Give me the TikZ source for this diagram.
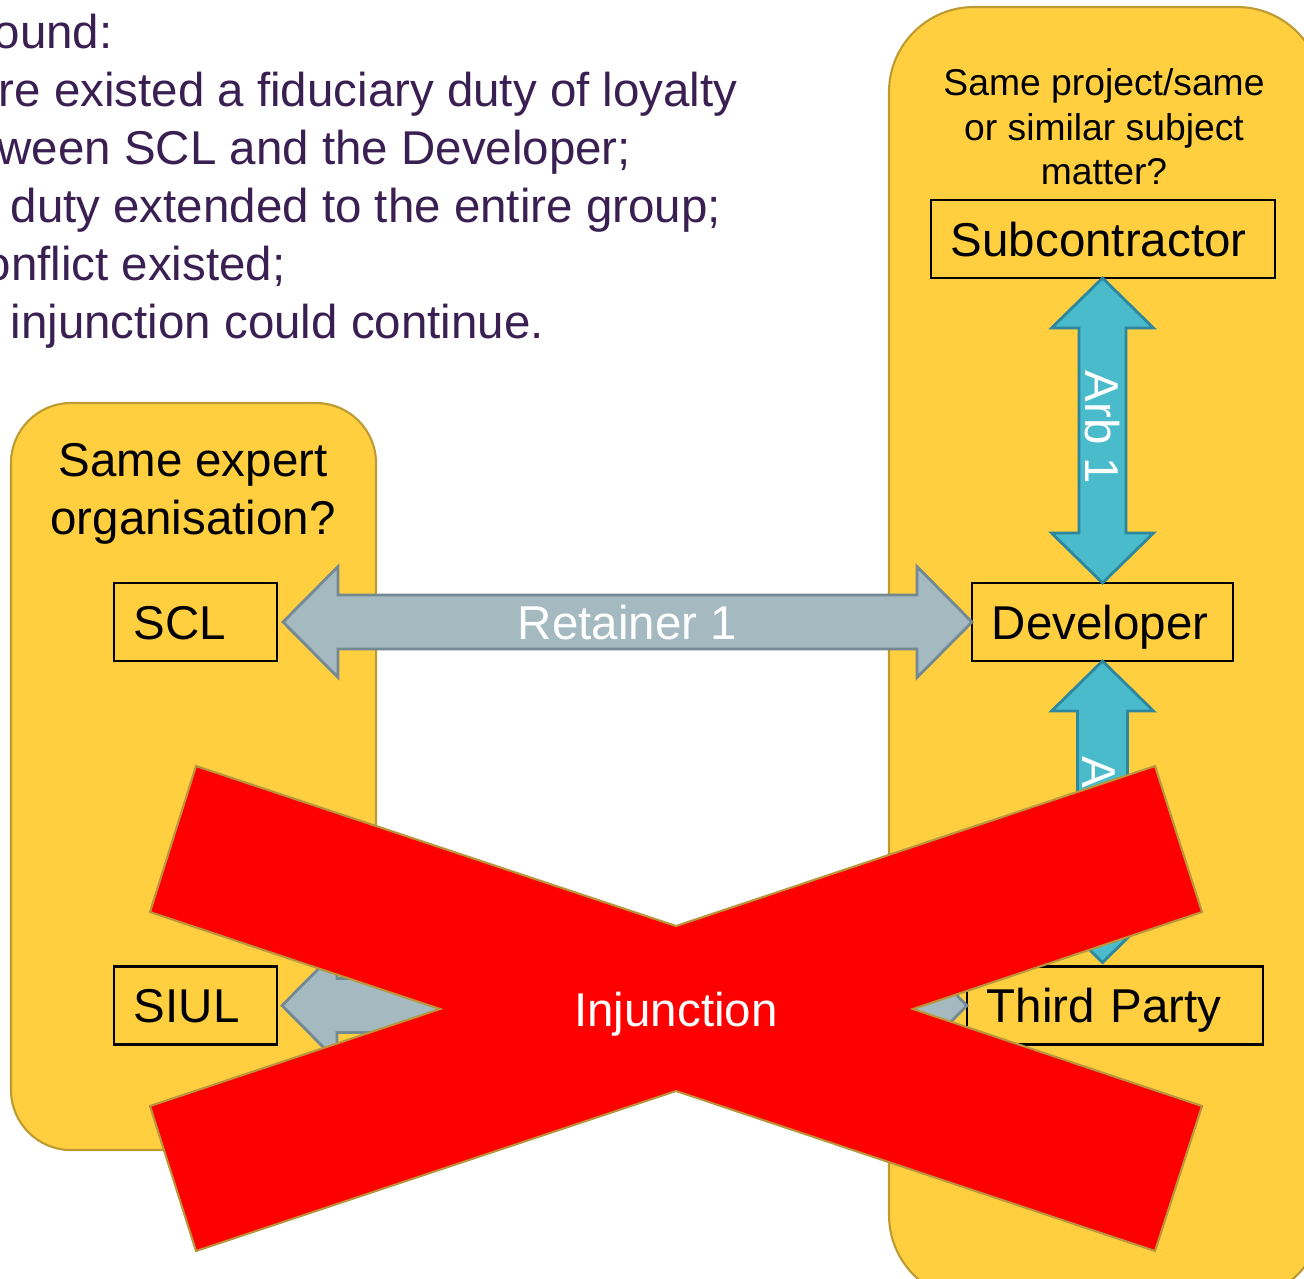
\documentclass[tikz,border=0pt]{standalone}
\usepackage{fontspec}
\setmainfont{Liberation Sans}
\usetikzlibrary{calc}

\definecolor{groupfill}{RGB}{255,207,64}
\definecolor{groupline}{RGB}{190,155,50}
\definecolor{retfill}{RGB}{165,185,192}
\definecolor{retline}{RGB}{115,137,148}
\definecolor{arbfill}{RGB}{74,187,203}
\definecolor{arbline}{RGB}{45,135,158}
\definecolor{notetext}{RGB}{58,32,82}
\definecolor{crossline}{RGB}{185,150,60}

\newcommand{\bigtext}{\fontsize{13.5}{16.4}\selectfont}
\newcommand{\smalltext}{\fontsize{10.6}{12.7}\selectfont}

\tikzset{
  groupbox/.style={fill=groupfill, draw=groupline, line width=0.6pt},
  party/.style={draw=black, line width=0.6pt, minimum height=0.78cm,
    inner xsep=0.2cm, inner ysep=0pt, outer sep=0pt, text width=#1,
    align=left, font=\bigtext, text height=9.7pt, text depth=0pt},
  note/.style={anchor=base west, inner sep=0pt, font=\bigtext, text=notetext},
  retarrow/.style={fill=retfill, draw=retline, line width=0.8pt},
  arbarrow/.style={fill=arbfill, draw=arbline, line width=0.8pt},
  arrowlabel/.style={font=\bigtext, text=white, text height=9.7pt, text depth=0pt, inner sep=0pt},
  crossshape/.style={fill=red, draw=crossline, line width=0.6pt}
}

\begin{document}
\begin{tikzpicture}[x=0.01cm, y=-0.01cm]
\useasboundingbox (0,0) rectangle (1304,1278);

% notes at the top
\foreach \n/\x/\t in {1/-7/ound:, 2/-2/re existed a fiduciary duty of loyalty,
    3/-3/ween SCL and the Developer;, 4/10/duty extended to the entire group;,
    5/-16/onflict existed;, 6/10/injunction could continue.} {
  \node[note] (note\n) at (\x, {48+58*(\n-1)}) {\t};
}

% the two groups
\draw[groupbox, rounded corners=0.6cm] (11,403) rectangle (376,1150);
\draw[groupbox, rounded corners=0.85cm] (889,7) rectangle (1322,1300);
\node[font=\bigtext, align=center] (expertq) at (193,494) {Same expert\\organisation?};
\node[font=\smalltext, align=center] (projectq) at (1104,127) {Same project/same\\or similar subject\\matter?};

% parties
\node[party=3.04cm] (sub) at (1103,239) {Subcontractor};
\node[party=2.21cm] (dev) at (1102.5,622) {Developer};
\node[party=1.23cm] (scl) at (195.5,622) {SCL};
\node[party=1.23cm] (siul) at (195.5,1005.5) {SIUL};
\node[party=2.56cm] (third) at (1115,1005.5) {Third Party};

% Retainer 1
\coordinate (r1a) at ($(scl.east)+(6,0)$);
\coordinate (r1b) at (dev.west);
\draw[retarrow] (r1a) -- ++(55,-55.5) -- ++(0,28.5) -- ($(r1b)+(-55,-27)$) -- ++(0,-28.5)
  -- (r1b) -- ++(-55,55.5) -- ++(0,-28.5) -- ($(r1a)+(55,27)$) -- ++(0,28.5) -- cycle;
\node[arrowlabel] (ret1) at ($(r1a)!0.5!(r1b)$) {Retainer 1};

% second retainer
\coordinate (r2a) at ($(siul.east)+(5,0)$);
\coordinate (r2b) at (third.west);
\draw[retarrow] (r2a) -- ++(55,-55.5) -- ++(0,28.5) -- ($(r2b)+(-55,-27)$) -- ++(0,-28.5)
  -- (r2b) -- ++(-55,55.5) -- ++(0,-28.5) -- ($(r2a)+(55,27)$) -- ++(0,28.5) -- cycle;

% Arb 1
\coordinate (a1a) at (dev.north |- sub.south);
\coordinate (a1b) at (dev.north);
\draw[arbarrow] (a1a) -- ++(51,50) -- ++(-27.5,0) -- ($(a1b)+(23.5,-50)$) -- ++(27.5,0)
  -- (a1b) -- ++(-51,-50) -- ++(27.5,0) -- ($(a1a)+(-23.5,50)$) -- ++(-27.5,0) -- cycle;
\node[arrowlabel, rotate=-90] (arb1) at ($(a1a)!0.5!(a1b)+(0,-3)$) {Arb 1};

% second arb
\coordinate (a2a) at (dev.south);
\coordinate (a2b) at ($(dev.south |- third.north)+(0,-4)$);
\draw[arbarrow] (a2a) -- ++(51,50) -- ++(-26,0) -- ($(a2b)+(25,-50)$) -- ++(26,0)
  -- (a2b) -- ++(-51,-50) -- ++(26,0) -- ($(a2a)+(-25,50)$) -- ++(-26,0) -- cycle;
\node[arrowlabel, rotate=-90] (arb2) at (1100,772) {A};

% the cross
\draw[crossshape] (196,766) -- (676,926) -- (1155,766) -- (1202,912) -- (913,1009)
  -- (1202,1106) -- (1155,1251) -- (676,1091) -- (196,1251) -- (150,1106)
  -- (440,1009) -- (150,912) -- cycle;
\node[arrowlabel] (inj) at (676,1009) {Injunction};

\end{tikzpicture}
\end{document}
